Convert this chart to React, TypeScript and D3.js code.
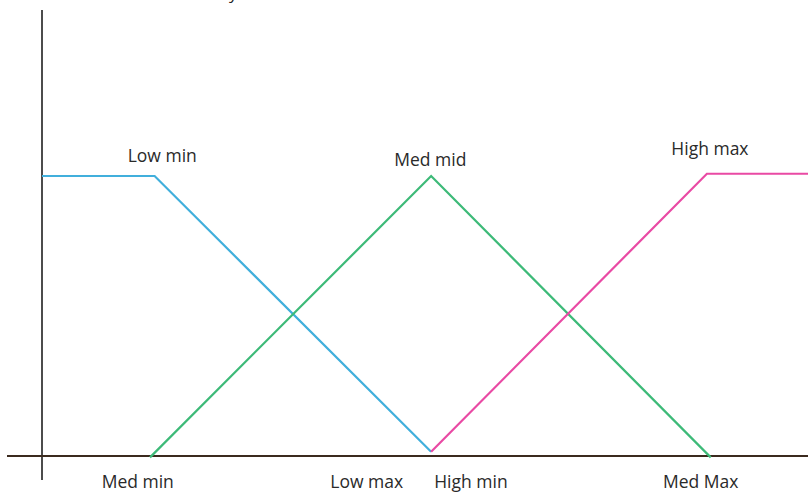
import React, { useEffect, useRef } from 'react';
import * as d3 from 'd3';

// membership functions: x in arbitrary units (0..10), mu in 0..1
const lowX = [0, 1.47, 5.08];
const lowMu = [1, 1, 0.015];
const medX = [1.41, 5.08, 8.73];
const medMu = [-0.005, 1, -0.005];
const highX = [5.08, 8.68, 10];
const highMu = [0.015, 1.008, 1.008];

const topLabels = [
  { text: 'Low min', x: 1.57, mu: 1.05 },
  { text: 'Med mid', x: 5.07, mu: 1.035 },
  { text: 'High max', x: 8.72, mu: 1.075 },
];
const bottomLabels = [
  { text: 'Med min', x: 1.25 },
  { text: 'Low max', x: 4.24 },
  { text: 'High min', x: 5.6 },
  { text: 'Med Max', x: 8.6 },
];

const W = 808;
const H = 493;

const App: React.FC = () => {
  const svgRef = useRef<SVGSVGElement>(null);

  useEffect(() => {
    if (!svgRef.current) return;
    document.body.style.margin = '0';
    const svg = d3.select(svgRef.current);
    svg.selectAll('*').remove();

    const x = d3.scaleLinear().domain([0, 10]).range([42, 808]);
    const y = d3.scaleLinear().domain([0, 1]).range([456, 176]);

    // label cut off at the very top of the picture
    svg.append('text')
      .attr('x', 229)
      .attr('y', -1)
      .style('font-family', 'Open Sans')
      .style('font-size', '17px')
      .attr('fill', '#222')
      .text('y');

    // y axis
    svg.append('line')
      .attr('x1', x(0)).attr('x2', x(0))
      .attr('y1', 10).attr('y2', 480)
      .attr('stroke', '#111')
      .attr('stroke-width', 1.5);

    // x axis
    svg.append('line')
      .attr('x1', 7).attr('x2', W)
      .attr('y1', y(0)).attr('y2', y(0))
      .attr('stroke', '#3b2a1e')
      .attr('stroke-width', 2);

    const line = d3.line<[number, number]>()
      .x(d => x(d[0]))
      .y(d => y(d[1]));

    const series = [
      { xs: lowX, mus: lowMu, color: '#41afdc' },
      { xs: medX, mus: medMu, color: '#3dba78' },
      { xs: highX, mus: highMu, color: '#e94aa4' },
    ];
    series.forEach(s => {
      svg.append('path')
        .attr('d', line(s.xs.map((v, i) => [v, s.mus[i]] as [number, number])))
        .attr('fill', 'none')
        .attr('stroke', s.color)
        .attr('stroke-width', 2.2);
    });

    topLabels.forEach(l => {
      svg.append('text')
        .attr('x', x(l.x))
        .attr('y', y(l.mu))
        .attr('text-anchor', 'middle')
        .style('font-family', 'Open Sans')
        .style('font-size', '17.5px')
        .attr('fill', '#2a2a2a')
        .text(l.text);
    });

    bottomLabels.forEach(l => {
      svg.append('text')
        .attr('x', x(l.x))
        .attr('y', 488)
        .attr('text-anchor', 'middle')
        .style('font-family', 'Open Sans')
        .style('font-size', '17.5px')
        .attr('fill', '#2a2a2a')
        .text(l.text);
    });
  }, []);

  return (
    <svg
      ref={svgRef}
      width={W}
      height={H}
      style={{ display: 'block', position: 'absolute', left: 0, top: 0, background: '#fff' }}
    />
  );
};

export default App;
